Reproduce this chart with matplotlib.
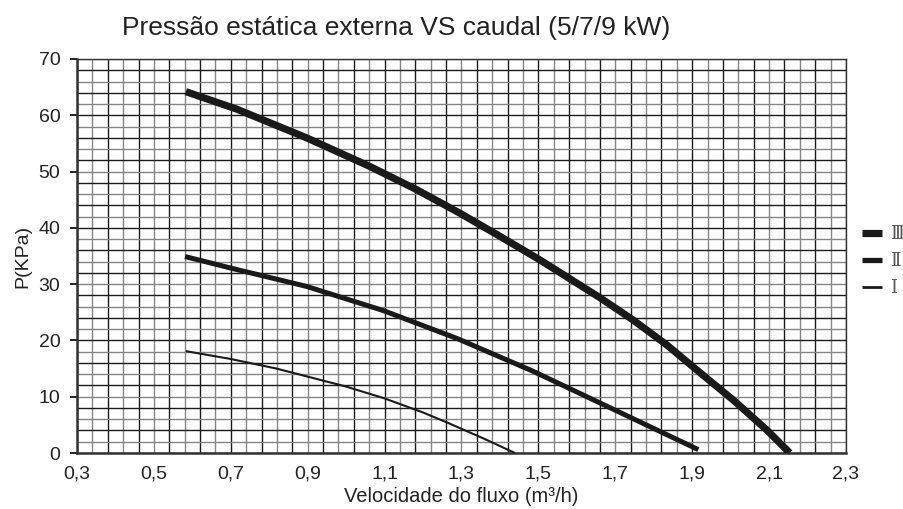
import matplotlib
matplotlib.use("Agg")
import matplotlib.pyplot as plt
import numpy as np

plt.rcParams['font.family'] = ['Liberation Sans', 'DejaVu Sans']

title = "Pressão estática externa VS caudal (5/7/9 kW)"
xlabel = "Velocidade do fluxo (m³/h)"
ylabel = "P(KPa)"

x_ticks = [0.3, 0.5, 0.7, 0.9, 1.1, 1.3, 1.5, 1.7, 1.9, 2.1, 2.3]
x_tick_labels = ["0,3", "0,5", "0,7", "0,9", "1,1", "1,3", "1,5", "1,7", "1,9", "2,1", "2,3"]
y_ticks = [0, 10, 20, 30, 40, 50, 60, 70]

# Series III (highest)
x3 = [0.583, 0.715, 0.897, 1.062, 1.183, 1.296, 1.400, 1.504, 1.660, 1.747, 1.834, 1.920, 2.007, 2.094, 2.154]
y3 = [64.2, 61.1, 56.0, 50.9, 46.8, 42.6, 38.5, 34.3, 27.6, 23.6, 19.2, 14.3, 9.4, 4.1, 0.0]
# Series II
x2 = [0.581, 0.715, 0.897, 1.097, 1.290, 1.487, 1.660, 1.916]
y2 = [34.9, 32.6, 29.6, 25.3, 20.3, 14.5, 8.9, 0.6]
# Series I
x1 = [0.583, 0.700, 0.819, 1.000, 1.100, 1.200, 1.270, 1.360, 1.439]
y1 = [18.1, 16.7, 15.0, 11.8, 9.7, 7.2, 5.2, 2.5, 0.0]

series = [("Ⅲ", x3, y3, 5.2), ("Ⅱ", x2, y2, 3.6), ("Ⅰ", x1, y1, 1.5)]
legend_widths = [5.2, 3.8, 2.0]

fig = plt.figure(figsize=(9.04, 5.09), dpi=100)
ax = fig.add_axes([0.0852, 0.110, 0.9358 - 0.0852, 0.8841 - 0.110])

# grid lines
xs = np.round(np.arange(0.3, 2.3001, 0.04), 4)
for i, xv in enumerate(xs):
    ax.axvline(xv, color='#1a1a1a' if i % 2 == 0 else '#858585', lw=1.0, zorder=1)
ys = np.arange(0, 70.001, 2)
for i, yv in enumerate(ys):
    ax.axhline(yv, color='#1a1a1a' if i % 2 == 0 else '#858585', lw=1.0, zorder=1)

handles = []
for (name, xx, yy, lw), lw_leg in zip(series, legend_widths):
    ax.plot(xx, yy, color='#1a1a1a', lw=lw, solid_capstyle='butt',
            solid_joinstyle='round', zorder=3)
    h, = ax.plot([], [], color='#1a1a1a', lw=lw_leg, solid_capstyle='butt', label=name)
    handles.append(h)

ax.set_xlim(0.3, 2.3)
ax.set_ylim(0, 70)
ax.set_xticks(x_ticks)
ax.set_xticklabels(x_tick_labels)
ax.set_yticks(y_ticks)
ax.tick_params(axis='x', length=0, pad=9, labelsize=14, colors='#222222')
ax.tick_params(axis='y', length=5, width=1.4, pad=7, labelsize=14, colors='#222222')
for s in ax.spines.values():
    s.set_color('#333333')
    s.set_linewidth(1.0)
ax.spines['left'].set_linewidth(1.8)
ax.spines['bottom'].set_linewidth(1.8)

ax.set_xlabel(xlabel, fontsize=14.5, color='#222222', labelpad=3)
ax.set_ylabel(ylabel, fontsize=14, color='#222222', labelpad=5)
fig.text(0.438, 0.945, title, fontsize=19, color='#222222', ha='center', va='center')

leg = fig.legend(handles=handles, loc='center left', bbox_to_anchor=(0.9535, 0.487),
                 frameon=False, borderpad=0, borderaxespad=0,
                 handlelength=1.1, handletextpad=0.45, labelspacing=0.5,
                 prop={'family': ['DejaVu Serif', 'Noto Sans CJK SC', 'DejaVu Sans'], 'size': 13})
for t in leg.get_texts():
    t.set_color('#555555')

fig.savefig("out.png", dpi=100)
